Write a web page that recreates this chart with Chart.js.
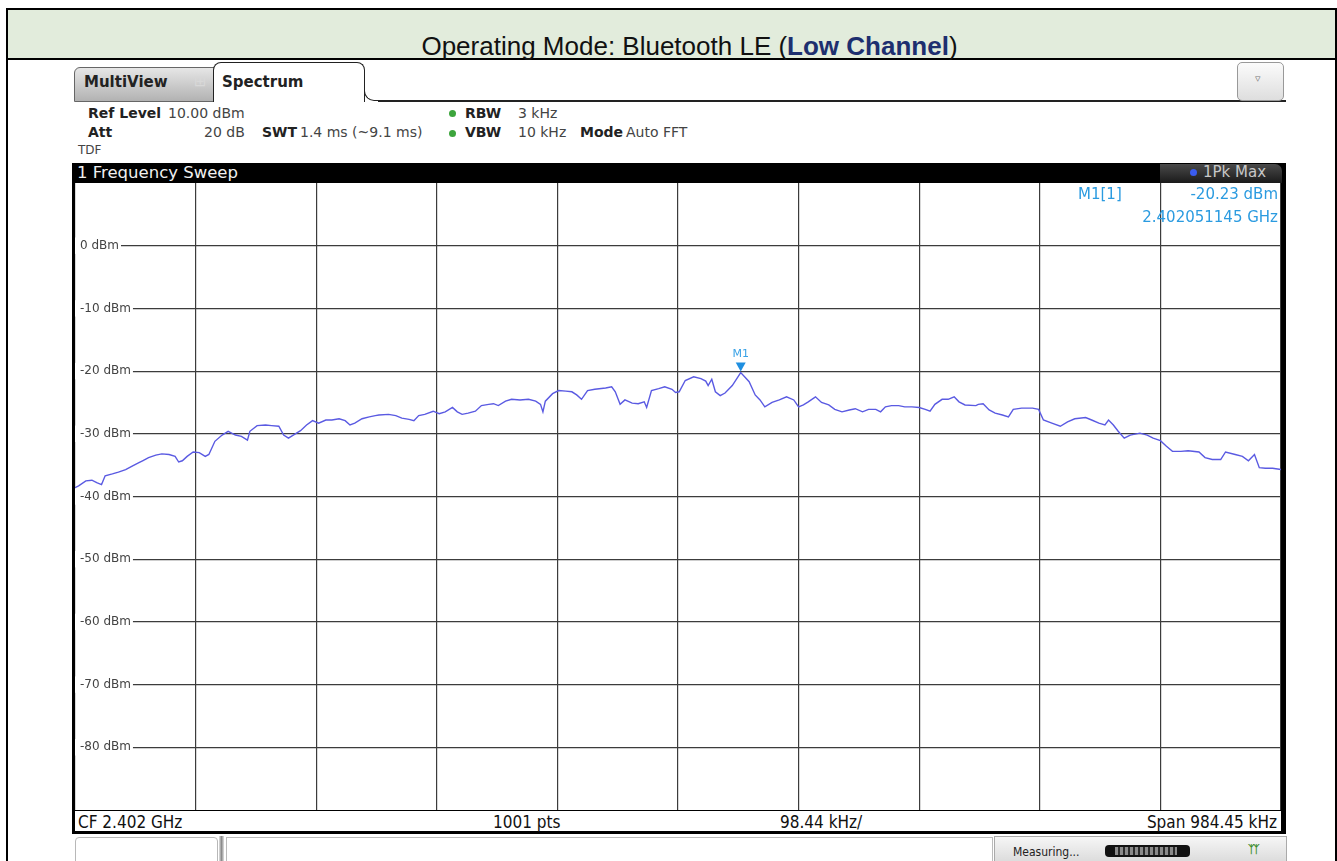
<!DOCTYPE html>
<html>
<head>
<meta charset="utf-8">
<title>Bluetooth LE Low Channel</title>
<script src="https://cdn.jsdelivr.net/npm/chart.js@4.4.1/dist/chart.umd.min.js"></script>
<style>
  body { margin: 0; width: 1337px; height: 861px; overflow: hidden; background: #fff; position: relative; font-family: "DejaVu Sans", Verdana, sans-serif; }
  .abs { position: absolute; white-space: nowrap; }
  .lbl { font-weight: bold; font-size: 14px; color: #222; }
  .val { font-size: 14px; color: #444; }
  .dot { width: 7px; height: 7px; border-radius: 50%; background: #3da53d; }
  .mk { font-size: 15px; color: #2b9be0; }
  .st { font-family: "Liberation Sans Narrow", "DejaVu Sans Condensed", "Liberation Sans", sans-serif; font-size: 17px; color: #111; top: 812px; line-height: 20px; }
</style>
</head>
<body>

<!-- tabla exterior y cabecera verde -->
<div class="abs" style="left:6px;top:8px;width:1327px;height:860px;border:2px solid #000;border-bottom:none;"></div>
<div class="abs" style="left:8px;top:10px;width:1327px;height:48px;background:#e2ecdc;border-bottom:2px solid #000;"></div>
<div class="abs" style="left:44px;top:33px;width:1291px;text-align:center;font:26px 'Liberation Sans', Arial, sans-serif;color:#111;line-height:27px;">
  Operating Mode: Bluetooth LE (<b style="color:#1d2f6f;">Low Channel</b>)
</div>

<!-- pestañas -->
<div class="abs" style="left:74px;top:67px;width:150px;height:33px;background:linear-gradient(#e6e6e6,#b2b2b2);border:1px solid #666;border-radius:6px 0 0 0;"></div>
<div class="abs" style="left:84px;top:73px;font:bold 15px 'DejaVu Sans';color:#222;">MultiView</div>
<div class="abs" style="left:194px;top:72px;font:15px 'DejaVu Sans';color:#d8d8d8;">⊞</div>
<div class="abs" style="left:213px;top:62px;width:150px;height:39px;background:#fff;border:1.5px solid #222;border-bottom:none;border-radius:8px 8px 0 0;"></div>
<div class="abs" style="left:222px;top:73px;font:bold 15px 'DejaVu Sans';color:#222;">Spectrum</div>
<div class="abs" style="left:364px;top:86px;width:14px;height:14px;border-left:1.5px solid #222;border-bottom:1.5px solid #222;border-radius:0 0 0 10px;"></div>
<div class="abs" style="left:378px;top:100px;width:908px;height:1.5px;background:#222;"></div>
<div class="abs" style="left:1237px;top:62px;width:45px;height:37px;border:1px solid #999;border-radius:5px;background:linear-gradient(#fbfbfb,#dedede);"></div>
<div class="abs" style="left:1255px;top:72px;font:11px 'DejaVu Sans';color:#777;">▿</div>

<!-- parámetros -->
<div class="abs lbl" style="left:88px;top:105px;">Ref Level</div>
<div class="abs val" style="left:168px;top:105px;">10.00 dBm</div>
<div class="abs dot" style="left:449px;top:110px;"></div>
<div class="abs lbl" style="left:465px;top:105px;">RBW</div>
<div class="abs val" style="left:518px;top:105px;">3 kHz</div>
<div class="abs lbl" style="left:88px;top:124px;">Att</div>
<div class="abs val" style="left:204px;top:124px;">20 dB</div>
<div class="abs lbl" style="left:262px;top:124px;">SWT</div>
<div class="abs val" style="left:300px;top:124px;">1.4 ms (~9.1 ms)</div>
<div class="abs dot" style="left:449px;top:130px;"></div>
<div class="abs lbl" style="left:465px;top:124px;">VBW</div>
<div class="abs val" style="left:518px;top:124px;">10 kHz</div>
<div class="abs lbl" style="left:580px;top:124px;">Mode</div>
<div class="abs val" style="left:626px;top:124px;">Auto FFT</div>
<div class="abs val" style="left:78px;top:143px;font-size:12px;">TDF</div>

<!-- pantalla del analizador -->
<div class="abs" style="left:72px;top:163px;width:1214px;height:671px;background:#000;"></div>
<div class="abs" style="left:77px;top:163px;font:16.5px 'DejaVu Sans';color:#f0f0f0;line-height:19px;">1 Frequency Sweep</div>
<div class="abs" style="left:1160px;top:164px;width:122px;height:19px;background:linear-gradient(#4a4a4a,#1a1a1a);border-radius:0 7px 0 0;"></div>
<div class="abs" style="left:1190px;top:169px;width:7px;height:7px;border-radius:50%;background:#3a5cf0;"></div>
<div class="abs" style="left:1203px;top:163px;font:15px 'DejaVu Sans';color:#c8c8c8;line-height:19px;">1Pk Max</div>

<div class="abs" style="left:75px;top:183px;width:1206px;height:627px;background:#fff;">
  <canvas id="spectrum"></canvas>
</div>

<div class="abs mk" style="left:1078px;top:185px;">M1[1]</div>
<div class="abs mk" style="right:59px;top:185px;">-20.23 dBm</div>
<div class="abs mk" style="right:59px;top:208px;">2.402051145 GHz</div>

<!-- barra de estado -->
<div class="abs" style="left:75px;top:811px;width:1206px;height:20px;background:#fff;"></div>
<div class="abs st" style="left:78px;">CF 2.402 GHz</div>
<div class="abs st" style="left:493px;">1001 pts</div>
<div class="abs st" style="left:780px;">98.44 kHz/</div>
<div class="abs st" style="right:60px;">Span 984.45 kHz</div>

<!-- zona inferior -->
<div class="abs" style="left:75px;top:837px;width:141px;height:30px;border:1px solid #b8b8b8;border-radius:4px 4px 0 0;background:#fff;"></div>
<div class="abs" style="left:219px;top:836px;width:5px;height:30px;background:linear-gradient(90deg,#e0e0e0,#8c8c8c,#e0e0e0);"></div>
<div class="abs" style="left:226px;top:837px;width:765px;height:30px;border:1px solid #bbb;background:#fff;"></div>
<div class="abs" style="left:994px;top:836px;width:291px;height:30px;border:1px solid #aaa;background:linear-gradient(#f6f6f6,#d6d6d6);"></div>
<div class="abs" style="left:1013px;top:845px;font:12px 'DejaVu Sans Condensed','DejaVu Sans';color:#222;">Measuring...</div>
<div class="abs" style="left:1105px;top:845px;width:85px;height:12px;border-radius:4px;background:#111;"></div>
<div class="abs" style="left:1115px;top:847px;width:62px;height:8px;background:repeating-linear-gradient(90deg,#8a8a8a 0 3px,#2a2a2a 3px 5px);"></div>
<div class="abs" style="left:1248px;top:843px;font:bold 11px 'DejaVu Sans';color:#3c8c2a;letter-spacing:-2px;">ᛉᛉ</div>

<script>
const sweepPoints = [
  0, 3, 9, 14, 18, 22, 25, 31, 36, 42, 47, 53, 56, 61, 67, 72, 78, 83, 86, 89,
  93, 98, 103, 108, 111, 116, 122, 127, 133, 138, 143, 145, 151, 158, 163, 169, 173, 177, 181, 187,
  192, 197, 202, 208, 213, 219, 224, 228, 232, 238, 244, 249,
  252, 260, 266, 271, 277, 281, 285, 290, 297, 302, 307, 313, 317, 321, 326, 332, 337, 343, 347, 351,
  357, 362, 369, 376, 382, 386, 388, 390, 396, 401, 407, 412, 416, 420, 425, 431, 440, 445, 448, 452,
  456, 462, 467, 472, 474, 478, 484, 489, 495, 498,
  501, 506, 513, 519, 523, 525, 528, 531, 535, 539, 545, 552, 559, 564, 568, 572, 578, 584, 590, 596,
  600, 604, 608, 614, 619, 625, 630, 636, 642, 647, 653, 658, 664, 668, 672, 677, 683, 688, 694, 700,
  705, 709, 713, 719, 724, 729, 733, 738, 747,
  749, 753, 758, 763, 769, 774, 778, 785, 794, 799, 803, 810, 817, 823, 829, 838, 843, 849, 854, 857,
  861, 865, 870, 875, 883, 889, 894, 900, 905, 910, 917, 923, 932, 937, 943, 950, 954, 962, 968, 973,
  978, 982, 987, 993, 1000
];
const levelDbm = [
  -38.6, -38.3, -37.5, -37.4, -37.8, -38.1, -36.7, -36.4, -36.1, -35.7, -35.2, -34.6, -34.3, -33.8, -33.4, -33.2, -33.3, -33.6, -34.5, -34.3,
  -33.6, -32.9, -33.0, -33.6, -33.3, -31.2, -30.2, -29.6, -30.2, -30.4, -31.0, -29.6, -28.7, -28.6, -28.7, -28.8, -30.2, -30.7, -30.2, -29.5,
  -28.6, -27.9, -28.3, -27.8, -27.8, -27.6, -27.9, -28.6, -28.3, -27.6, -27.3, -27.1,
  -27.0, -26.9, -27.1, -27.5, -27.7, -27.9, -27.1, -26.9, -26.4, -26.8, -26.5, -25.8, -26.5, -26.9, -26.7, -26.4, -25.5, -25.3, -25.2, -25.5,
  -24.8, -24.5, -24.6, -24.5, -24.8, -25.3, -26.5, -24.8, -23.6, -23.1, -23.2, -23.3, -23.8, -24.5, -23.1, -22.9, -22.7, -22.5, -23.3, -25.3,
  -24.6, -25.1, -25.2, -24.9, -25.8, -23.1, -22.8, -22.5, -22.9, -23.4,
  -23.3, -21.5, -20.9, -21.2, -21.6, -22.3, -21.3, -23.3, -23.9, -23.5, -22.3, -20.23, -21.7, -23.8, -24.6, -25.7, -25.0, -24.6, -24.1, -24.6,
  -25.7, -25.4, -24.9, -24.1, -25.0, -25.4, -26.1, -26.5, -26.2, -26.0, -26.5, -26.1, -26.1, -26.5, -25.7, -25.5, -25.5, -25.7, -25.7, -25.8,
  -26.1, -26.4, -25.3, -24.5, -24.5, -24.1, -24.9, -25.4, -25.5,
  -25.3, -25.2, -26.2, -26.7, -27.0, -27.3, -26.1, -25.9, -25.9, -26.1, -27.8, -28.3, -28.8, -28.1, -27.6, -27.4, -27.8, -28.3, -28.6, -27.8,
  -28.6, -29.6, -30.7, -30.2, -29.9, -30.2, -30.7, -31.1, -32.0, -32.8, -32.8, -32.7, -32.9, -33.8, -34.1, -34.1, -32.9, -33.3, -33.6, -34.3,
  -33.3, -35.4, -35.5, -35.5, -35.7
];

// Marcador M1 (2.402051145 GHz -> punto 552 de 1001)
const markerPoint = [552];
const markerLevel = [-20.23];
const markerLabel = ['M1'];

// Eje vertical: referencia 10 dBm, 10 dB/div
const yMin = -90;
const yMax = 10;
const xDivisions = 10;
const totalPoints = 1000;

// Dibuja el triángulo del marcador y su etiqueta sobre la traza
const markerPlugin = {
  id: 'marker',
  afterDatasetsDraw(chart) {
    const ctx = chart.ctx;
    const xs = chart.scales.x;
    const ys = chart.scales.y;
    ctx.save();
    markerPoint.forEach((p, i) => {
      const px = xs.getPixelForValue(p);
      const py = ys.getPixelForValue(markerLevel[i]);
      ctx.fillStyle = '#1f8fe0';
      ctx.beginPath();
      ctx.moveTo(px - 5, py - 10);
      ctx.lineTo(px + 5, py - 10);
      ctx.lineTo(px, py - 1);
      ctx.closePath();
      ctx.fill();
      ctx.fillStyle = '#3aa2e6';
      ctx.font = '11px "DejaVu Sans"';
      ctx.textAlign = 'center';
      ctx.textBaseline = 'bottom';
      ctx.fillText(markerLabel[i], px, py - 13);
    });
    ctx.restore();
  }
};

// Quita el tamaño y el relleno que la escala reserva, para que el área de trazado ocupe todo el lienzo
function noAxisSpace(s) {
  if (s.isHorizontal()) { s.height = 0; } else { s.width = 0; }
  s.paddingTop = 0;
  s.paddingBottom = 0;
  s.paddingLeft = 0;
  s.paddingRight = 0;
}

document.addEventListener('DOMContentLoaded', () => {
  const ctx = document.getElementById('spectrum');
  const trace = sweepPoints.map((p, i) => ({ x: p, y: levelDbm[i] }));

  new Chart(ctx, {
    type: 'line',
    data: {
      datasets: [{
        label: '1Pk Max',
        data: trace,
        borderColor: '#5a5ae2',
        borderWidth: 1.4,
        pointRadius: 0,
        tension: 0,
        fill: false
      }]
    },
    options: {
      animation: false,
      responsive: true,
      maintainAspectRatio: false,
      events: [],
      layout: { padding: 0 },
      plugins: { legend: { display: false }, tooltip: { enabled: false } },
      scales: {
        x: {
          type: 'linear',
          min: 0,
          max: totalPoints,
          ticks: { display: false, stepSize: totalPoints / xDivisions },
          grid: { color: '#3c3c3c', lineWidth: 1.2, drawTicks: false },
          border: { display: false },
          afterFit: noAxisSpace
        },
        y: {
          min: yMin,
          max: yMax,
          ticks: {
            stepSize: 10,
            mirror: true,
            padding: 5,
            color: '#444',
            font: { family: 'DejaVu Sans', size: 12 },
            showLabelBackdrop: true,
            backdropColor: '#fff',
            backdropPadding: { left: 6, right: 2, top: 1, bottom: 1 },
            callback: v => (v === yMax || v === yMin) ? null : v + ' dBm'
          },
          grid: { color: '#3c3c3c', lineWidth: 1.2, drawTicks: false },
          border: { display: false },
          afterFit: noAxisSpace
        }
      }
    },
    plugins: [markerPlugin]
  });
});
</script>
</body>
</html>
